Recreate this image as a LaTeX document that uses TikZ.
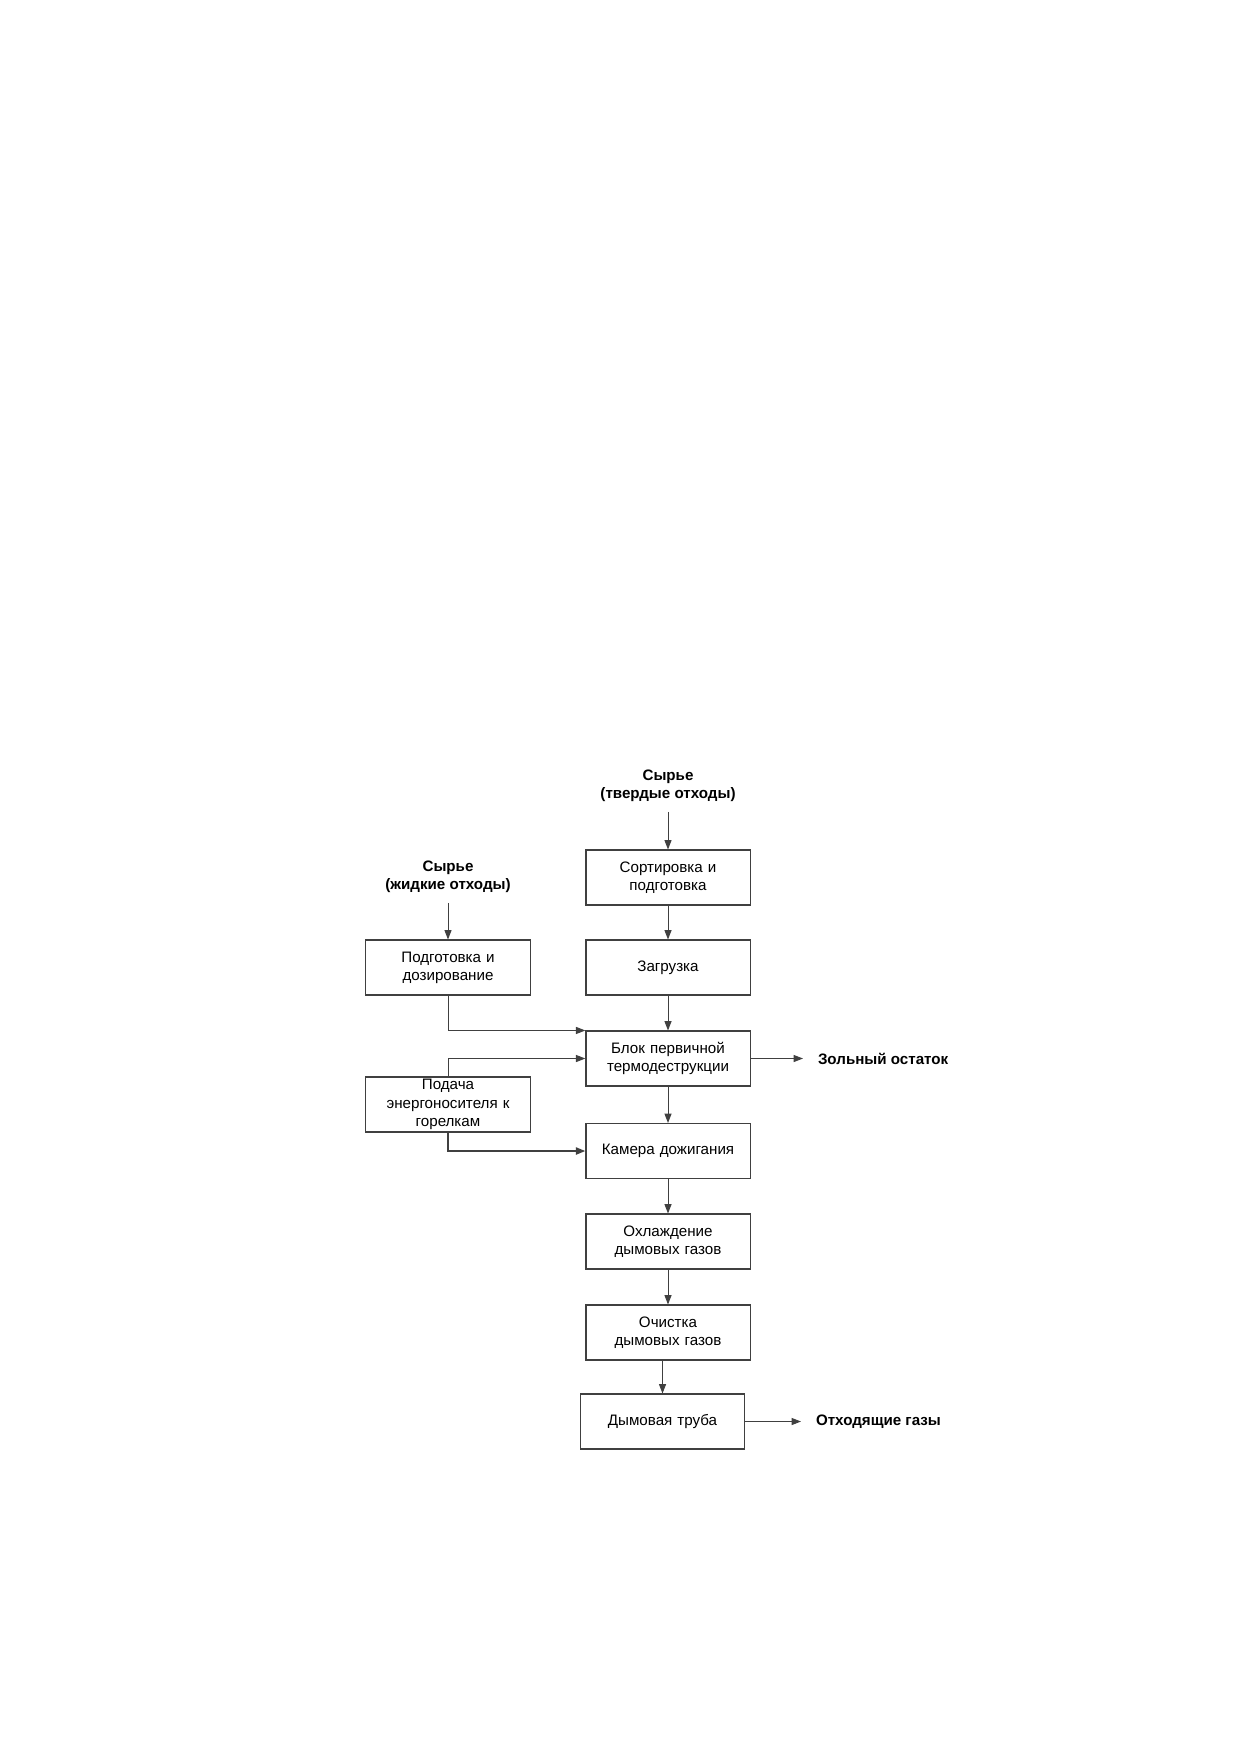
\documentclass[tikz,border=0pt]{standalone}
\usepackage{fontspec}
\setmainfont{Liberation Sans}
\usetikzlibrary{positioning,calc,arrows.meta}
\definecolor{linegrey}{HTML}{404040}

\begin{document}
\begin{tikzpicture}[x=0.16935mm,y=-0.16935mm,
    font=\fontsize{7.3}{8.8}\selectfont,
    >={Triangle[length=1.6mm,width=1.2mm]},
    every path/.style={draw=linegrey,line width=0.45pt},
    block/.style={draw=linegrey,line width=0.55pt,minimum width=27.8mm,minimum height=9.3mm,
        text width=27mm,align=center,inner xsep=0.4mm,inner ysep=0.3pt},
    source/.style={align=center,font=\fontsize{7.3}{8.8}\selectfont\bfseries,inner sep=4.5pt},
    outlet/.style={anchor=west,font=\fontsize{7.3}{8.8}\selectfont\bfseries,inner xsep=7pt}]
        \useasboundingbox[draw=none] (0,0) rectangle (1240,1754);
        % main line (solid wastes)
        \node[source] (solid) at (668,786) {Сырье\\(твердые отходы)};
        \node[block] (sort) at (668,877.5) {Сортировка и\\подготовка};
        \node[block] (load) at (668,967.5) {Загрузка};
        \node[block] (primary) at (668,1058.5) {Блок первичной\\термодеструкции};
        \node[block] (afterburn) at (668,1151) {Камера дожигания};
        \node[block] (cooling) at (668,1241.5) {Охлаждение\\дымовых газов};
        \node[block] (cleaning) at (668,1332.5) {Очистка\\дымовых газов};
        \node[block] (stack) at (662.5,1421.5) {Дымовая труба};
        % liquid wastes and burners
        \node[source] (liquid) at (448,877) {Сырье\\(жидкие отходы)};
        \node[block] (dosing) at (448,967.5) {Подготовка и\\дозирование};
        \node[block] (fuel) at (448,1104.5) {Подача\\энергоносителя к\\горелкам};
        % outlets
        \node[outlet] (ash) at (803,1058.5) {Зольный остаток};
        \node[outlet] (fluegas) at (801,1421.5) {Отходящие газы};

        \draw[->] (solid) -- (sort);
        \draw[->] (sort) -- (load);
        \draw[->] (load) -- (primary);
        \draw[->] (primary) -- (afterburn);
        \draw[->] (afterburn) -- (cooling);
        \draw[->] (cooling) -- (cleaning);
        \draw[->] (cleaning.south -| stack.north) -- (stack);
        \draw[->] (liquid) -- (dosing);
        \draw[->] (dosing) |- (primary.north west);
        \draw[->] (fuel) |- (primary.west);
        \draw[->,line width=0.9pt] (fuel.south) |- (afterburn.west);
        \draw[->] (primary.east) -- (ash.west);
        \draw[->] (stack.east) -- (fluegas.west);
\end{tikzpicture}
\end{document}
